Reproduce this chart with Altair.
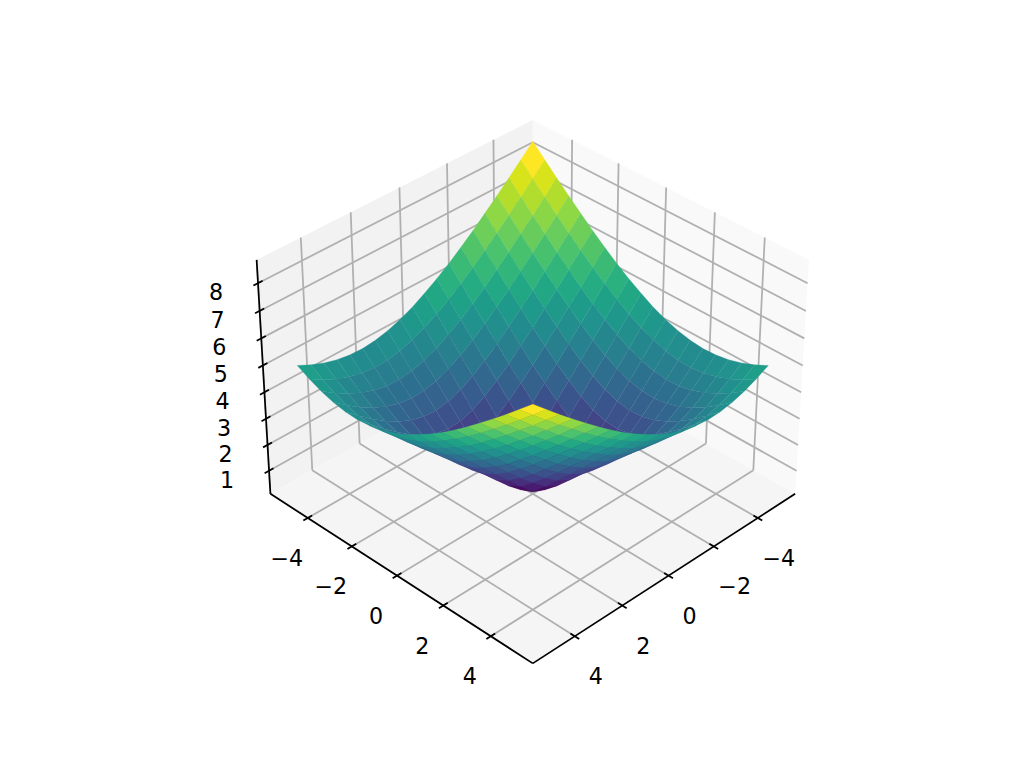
import numpy as np
import pandas as pd
import altair as alt

GRID = [-5.0,-4.47,-3.95,-3.42,-2.89,-2.37,-1.84,-1.32,-0.79,-0.26,0.26,0.79,1.32,1.84,2.37,2.89,3.42,3.95,4.47,5.0]

Z_ROWS = [
 [8.66,8.21,7.77,7.34,6.92,6.52,6.13,5.77,5.44,5.14,4.87,4.66,4.49,4.38,4.33,4.35,4.43,4.57,4.76,5.00],
 [8.21,7.75,7.30,6.86,6.43,6.02,5.63,5.26,4.92,4.61,4.35,4.14,3.98,3.89,3.88,3.93,4.05,4.24,4.47,4.76],
 [7.77,7.30,6.84,6.39,5.95,5.53,5.12,4.74,4.40,4.09,3.82,3.62,3.48,3.42,3.44,3.54,3.71,3.95,4.24,4.57],
 [7.34,6.86,6.39,5.93,5.48,5.04,4.63,4.24,3.88,3.56,3.30,3.10,2.99,2.97,3.04,3.19,3.42,3.71,4.05,4.43],
 [6.92,6.43,5.95,5.48,5.01,4.57,4.14,3.73,3.36,3.04,2.77,2.59,2.51,2.54,2.67,2.90,3.19,3.54,3.93,4.35],
 [6.52,6.02,5.53,5.04,4.57,4.10,3.66,3.23,2.85,2.51,2.25,2.09,2.06,2.15,2.37,2.67,3.04,3.44,3.88,4.33],
 [6.13,5.63,5.12,4.63,4.14,3.66,3.19,2.75,2.34,1.99,1.73,1.60,1.64,1.84,2.15,2.54,2.97,3.42,3.89,4.38],
 [5.77,5.26,4.74,4.24,3.73,3.23,2.75,2.28,1.84,1.47,1.21,1.15,1.32,1.64,2.06,2.51,2.99,3.48,3.98,4.49],
 [5.44,4.92,4.40,3.88,3.36,2.85,2.34,1.84,1.37,0.95,0.70,0.79,1.15,1.60,2.09,2.59,3.10,3.62,4.14,4.66],
 [5.14,4.61,4.09,3.56,3.04,2.51,1.99,1.47,0.95,0.46,0.26,0.70,1.21,1.73,2.25,2.77,3.30,3.82,4.35,4.87],
 [4.87,4.35,3.82,3.30,2.77,2.25,1.73,1.21,0.70,0.26,0.46,0.95,1.47,1.99,2.51,3.04,3.56,4.09,4.61,5.14],
 [4.66,4.14,3.62,3.10,2.59,2.09,1.60,1.15,0.79,0.70,0.95,1.37,1.84,2.34,2.85,3.36,3.88,4.40,4.92,5.44],
 [4.49,3.98,3.48,2.99,2.51,2.06,1.64,1.32,1.15,1.21,1.47,1.84,2.28,2.75,3.23,3.73,4.24,4.74,5.26,5.77],
 [4.38,3.89,3.42,2.97,2.54,2.15,1.84,1.64,1.60,1.73,1.99,2.34,2.75,3.19,3.66,4.14,4.63,5.12,5.63,6.13],
 [4.33,3.88,3.44,3.04,2.67,2.37,2.15,2.06,2.09,2.25,2.51,2.85,3.23,3.66,4.10,4.57,5.04,5.53,6.02,6.52],
 [4.35,3.93,3.54,3.19,2.90,2.67,2.54,2.51,2.59,2.77,3.04,3.36,3.73,4.14,4.57,5.01,5.48,5.95,6.43,6.92],
 [4.43,4.05,3.71,3.42,3.19,3.04,2.97,2.99,3.10,3.30,3.56,3.88,4.24,4.63,5.04,5.48,5.93,6.39,6.86,7.34],
 [4.57,4.24,3.95,3.71,3.54,3.44,3.42,3.48,3.62,3.82,4.09,4.40,4.74,5.12,5.53,5.95,6.39,6.84,7.30,7.77],
 [4.76,4.47,4.24,4.05,3.93,3.88,3.89,3.98,4.14,4.35,4.61,4.92,5.26,5.63,6.02,6.43,6.86,7.30,7.75,8.21],
 [5.00,4.76,4.57,4.43,4.35,4.33,4.38,4.49,4.66,4.87,5.14,5.44,5.77,6.13,6.52,6.92,7.34,7.77,8.21,8.66],
]

XY_TICKS = [-4, -2, 0, 2, 4]
Z_TICKS = [1, 2, 3, 4, 5, 6, 7, 8]
XY_LIM = 5.73
Z_LIM = (0.10, 8.83)

ELEV, AZIM, DIST = np.radians(35.0), np.radians(45.0), 10.0
BOX = np.array([4.0, 4.0, 3.0])
BOX = BOX * 1.8294640721620434 * 25 / 24 / np.linalg.norm(BOX)
W = np.array([np.cos(ELEV)*np.cos(AZIM), np.cos(ELEV)*np.sin(AZIM), np.sin(ELEV)])
U = np.cross([0, 0, 1], W); U = U / np.linalg.norm(U)
V = np.cross(W, U)
SIDE = 591.36
CX, CY = 229.12 + 0.095/0.185*SIDE, 683.52 - 0.095/0.185*SIDE


def centred(x, y, z):
    return np.array([x/(2*XY_LIM), y/(2*XY_LIM), (z-Z_LIM[0])/(Z_LIM[1]-Z_LIM[0]) - 0.5]) * BOX


def proj(x, y, z):
    p = centred(x, y, z)
    d = DIST - p @ W
    return float(CX + SIDE/0.185*(p @ U)/d), float(CY - SIDE/0.185*(p @ V)/d)


def depth(x, y, z):
    return float(centred(x, y, z) @ W)


XS = alt.Scale(domain=[8, 1008], nice=False, zero=False)
YS = alt.Scale(domain=[728, 8], nice=False, zero=False)
ex = alt.X('px:Q', scale=XS, axis=None)
ey = alt.Y('py:Q', scale=YS, axis=None)

# surface cells, far to near
Z = np.array(Z_ROWS)
cells = []
for i in range(len(GRID)-1):
    for j in range(len(GRID)-1):
        corners = [(i, j), (i+1, j), (i+1, j+1), (i, j+1)]
        pts = [(GRID[a], GRID[b], Z[a, b]) for a, b in corners]
        cells.append((np.mean([depth(*q) for q in pts]), float(np.mean([q[2] for q in pts])), pts))
cells.sort(key=lambda c: c[0])
rows = []
for n, (_, c, pts) in enumerate(cells):
    for k, q in enumerate(pts):
        px, py = proj(*q)
        rows.append(dict(cell=f'c{n:03d}', k=k, px=px, py=py, c=c))
surf = pd.DataFrame(rows)
cscale = alt.Scale(scheme='viridis', domain=[float(surf.c.min()), float(surf.c.max())])
surface = alt.Chart(surf).mark_line(filled=True, interpolate='linear-closed', strokeWidth=0.25).encode(
    x=ex, y=ey, order='k:O', detail='cell:N',
    color=alt.Color('c:Q', scale=cscale, legend=None),
    stroke=alt.Stroke('c:Q', scale=cscale, legend=None))

# panes
L, z0, z1 = XY_LIM, Z_LIM[0], Z_LIM[1]
PANES = [
    ('left', '#f2f2f2', [(L, -L, z0), (-L, -L, z0), (-L, -L, z1), (L, -L, z1)]),
    ('right', '#f9f9f9', [(-L, -L, z0), (-L, L, z0), (-L, L, z1), (-L, -L, z1)]),
    ('floor', '#f5f5f5', [(L, -L, z0), (L, L, z0), (-L, L, z0), (-L, -L, z0)]),
]
pane_layers = []
for name, col, pts in PANES:
    d = pd.DataFrame([dict(k=k, px=proj(*q)[0], py=proj(*q)[1]) for k, q in enumerate(pts)])
    pane_layers.append(alt.Chart(d).mark_line(filled=True, interpolate='linear-closed', strokeWidth=0, color=col).encode(x=ex, y=ey, order='k:O'))


def seg(a, b):
    p, q = proj(*a), proj(*b)
    return dict(px=p[0], py=p[1], px2=q[0], py2=q[1])


def rules(segs, color, width):
    return alt.Chart(pd.DataFrame(segs)).mark_rule(color=color, strokeWidth=width).encode(
        x=ex, y=ey, x2='px2:Q', y2='py2:Q')


grid = []
for t in XY_TICKS:
    grid += [seg((t, L, z0), (t, -L, z0)), seg((t, -L, z0), (t, -L, z1))]
    grid += [seg((L, t, z0), (-L, t, z0)), seg((-L, t, z0), (-L, t, z1))]
for t in Z_TICKS:
    grid += [seg((L, -L, t), (-L, -L, t)), seg((-L, -L, t), (-L, L, t))]
grid_layer = rules(grid, '#b0b0b0', 1.78)

axes_lines = [seg((L, -L, z0), (L, L, z0)), seg((-L, L, z0), (L, L, z0)), seg((L, -L, z0), (L, -L, z1))]
TICK = 0.18
ticks = []
for t in XY_TICKS:
    ticks += [seg((L+TICK, t, z0), (L-TICK, t, z0)), seg((t, L+TICK, z0), (t, L-TICK, z0))]
for t in Z_TICKS:
    ticks += [seg((L+TICK, -L, t), (L-TICK, -L, t))]
axis_layer = rules(axes_lines + ticks, '#000000', 1.78)


def label_df(pts, vals):
    return pd.DataFrame([dict(px=proj(*p)[0], py=proj(*p)[1],
                              t=str(v).replace('-', '\u2212')) for p, v in zip(pts, vals)])


def labels(df, dx, dy):
    return alt.Chart(df).mark_text(font='DejaVu Sans', fontSize=22.2, color='#000000', dx=dx, dy=dy,
                                   align='center', baseline='middle').encode(x=ex, y=ey, text='t:N')


lab_y = labels(label_df([(L, t, z0) for t in XY_TICKS], XY_TICKS), -21, 41)
lab_x = labels(label_df([(t, L, z0) for t in XY_TICKS], XY_TICKS), 21, 41)
lab_z = labels(label_df([(L, -L, t) for t in Z_TICKS], Z_TICKS), -42, 10)

chart = alt.layer(*pane_layers, grid_layer, axis_layer, surface, lab_x, lab_y, lab_z).resolve_scale(
    color='independent'
).properties(width=1000, height=720, padding=0).configure_view(stroke=None)

chart.save("out.html", embed_options={"renderer": "svg", "actions": False})
